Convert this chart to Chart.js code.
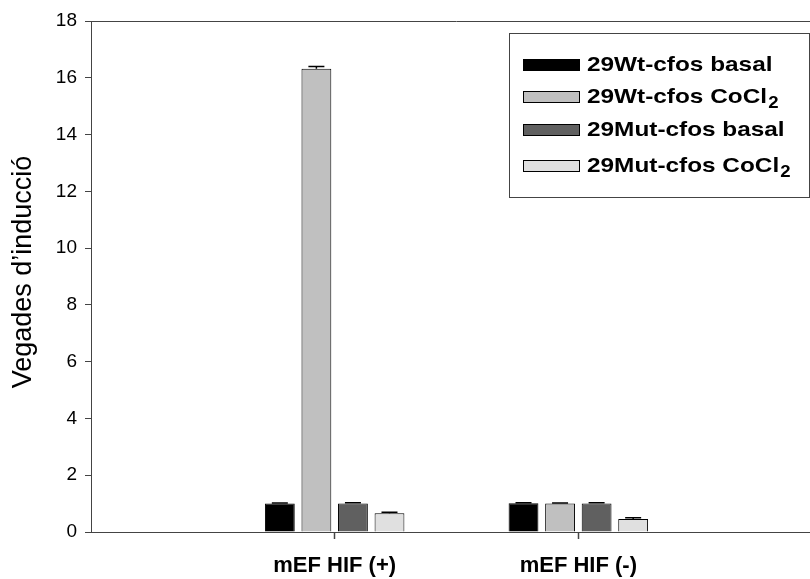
<!DOCTYPE html>
<html><head><meta charset="utf-8">
<script src="https://cdn.jsdelivr.net/npm/chart.js@4"></script>
<style>html,body{margin:0;padding:0;background:#fff;overflow:hidden}#wrap{width:836px;height:579px;position:relative}</style>
</head><body><div id="wrap"><canvas id="c" width="836" height="579"></canvas></div>
<script>
const categories = ['', 'mEF HIF (+)', 'mEF HIF (-)', ''];
const seriesNames = ['29Wt-cfos basal', '29Wt-cfos CoCl₂', '29Mut-cfos basal', '29Mut-cfos CoCl₂'];
const wtBasal = [null, 1.00, 1.01, null];
const wtCoCl2 = [null, 16.32, 1.00, null];
const mutBasal = [null, 1.00, 1.00, null];
const mutCoCl2 = [null, 0.66, 0.46, null];
const wtBasalErr = [null, 0.02, 0.02, null];
const wtCoCl2Err = [null, 0.08, 0.02, null];
const mutBasalErr = [null, 0.03, 0.03, null];
const mutCoCl2Err = [null, 0.04, 0.04, null];
const yTickValues = [0, 2, 4, 6, 8, 10, 12, 14, 16, 18];
const yTitle = 'Vegades d’inducció';
const colors = ['#000000', '#c0c0c0', '#606060', '#e0e0e0'];

const values = [wtBasal, wtCoCl2, mutBasal, mutCoCl2];
const errors = [wtBasalErr, wtCoCl2Err, mutBasalErr, mutCoCl2Err];
const FONT = '"Liberation Sans", Arial, Helvetica, sans-serif';
const AXIS = '#444';

const errorBars = {
  id: 'errorBars',
  afterDatasetsDraw(chart) {
    const ctx = chart.ctx, y = chart.scales.y;
    ctx.save();
    ctx.strokeStyle = '#000';
    ctx.lineWidth = 1.5;
    chart.data.datasets.forEach((ds, di) => {
      const meta = chart.getDatasetMeta(di);
      ds.data.forEach((v, i) => {
        if (v == null) return;
        const e = errors[di][i];
        const bar = meta.data[i];
        const yt = y.getPixelForValue(v + e);
        ctx.beginPath();
        ctx.moveTo(bar.x, bar.y);
        ctx.lineTo(bar.x, yt);
        ctx.moveTo(bar.x - 8, yt);
        ctx.lineTo(bar.x + 8, yt);
        ctx.stroke();
      });
    });
    ctx.restore();
  }
};

const frameAndLegend = {
  id: 'frameAndLegend',
  beforeDatasetsDraw(chart) {
    const ctx = chart.ctx, a = chart.chartArea;
    ctx.save();
    ctx.strokeStyle = AXIS;
    ctx.lineWidth = 1;
    ctx.beginPath();
    ctx.moveTo(a.left, Math.round(a.top) + 0.5);
    ctx.lineTo(a.right, Math.round(a.top) + 0.5);
    ctx.stroke();
    ctx.restore();
  },
  afterDraw(chart) {
    const ctx = chart.ctx;
    ctx.save();
    ctx.translate(24, 272);
    ctx.rotate(-Math.PI / 2);
    ctx.font = '27px ' + FONT;
    ctx.fillStyle = '#000';
    ctx.textAlign = 'center';
    ctx.textBaseline = 'middle';
    ctx.fillText(yTitle, 0, 0);
    ctx.restore();

    ctx.save();
    ctx.fillStyle = '#fff';
    ctx.strokeStyle = AXIS;
    ctx.lineWidth = 1;
    ctx.fillRect(509.5, 33.5, 300, 164);
    ctx.strokeRect(509.5, 33.5, 300, 164);
    const rows = [65, 97, 130, 166];
    chart.data.datasets.forEach((ds, i) => {
      const cy = rows[i];
      ctx.fillStyle = ds.backgroundColor;
      ctx.fillRect(523.5, cy - 5.5, 56, 11);
      ctx.strokeStyle = '#000';
      ctx.strokeRect(523.5, cy - 5.5, 56, 11);
      ctx.fillStyle = '#000';
      ctx.textBaseline = 'middle';
      ctx.textAlign = 'left';
      const parts = ds.label.split('₂');
      ctx.save();
      ctx.translate(587, cy);
      ctx.scale(1.16, 1);
      ctx.font = 'bold 21px ' + FONT;
      ctx.fillText(parts[0], 0, 0);
      if (parts.length > 1) {
        const w = ctx.measureText(parts[0]).width;
        ctx.font = 'bold 16px ' + FONT;
        ctx.fillText('2', w + 1, 7);
      }
      ctx.restore();
    });
    ctx.restore();
  }
};

new Chart(document.getElementById('c'), {
  type: 'bar',
  data: {
    labels: categories,
    datasets: values.map((d, i) => ({
      label: seriesNames[i],
      data: d,
      backgroundColor: colors[i],
      borderColor: '#000',
      borderWidth: 1,
      barPercentage: 0.816,
      categoryPercentage: 0.60
    }))
  },
  options: {
    responsive: false,
    animation: false,
    devicePixelRatio: 1,
    layout: { padding: { top: 21, right: 4, left: 0, bottom: 0 } },
    plugins: { legend: { display: false }, tooltip: { enabled: false } },
    scales: {
      x: {
        type: 'category',
        offset: false,
        grid: {
          display: true, drawOnChartArea: false, drawTicks: true, tickLength: 7, offset: false,
          color: AXIS, tickWidth: 1.5,
          tickColor: (c) => (c.index === 1 || c.index === 2) ? AXIS : 'rgba(255,255,255,0)'
        },
        border: { display: true, color: AXIS, width: 1 },
        ticks: { font: { family: FONT, size: 22, weight: 'bold' }, color: '#000', padding: 14, autoSkip: false, maxRotation: 0 },
        afterFit(s) { s.height = 47; }
      },
      y: {
        min: 0, max: 18,
        afterBuildTicks(s) { s.ticks = yTickValues.map(v => ({ value: v })); },
        grid: { display: true, drawOnChartArea: false, tickLength: 6, color: AXIS },
        border: { display: true, color: AXIS },
        ticks: { font: { family: FONT, size: 19 }, color: '#000', padding: 8 },
        afterFit(s) { s.width = 91; }
      }
    }
  },
  plugins: [errorBars, frameAndLegend]
});
</script></body></html>
